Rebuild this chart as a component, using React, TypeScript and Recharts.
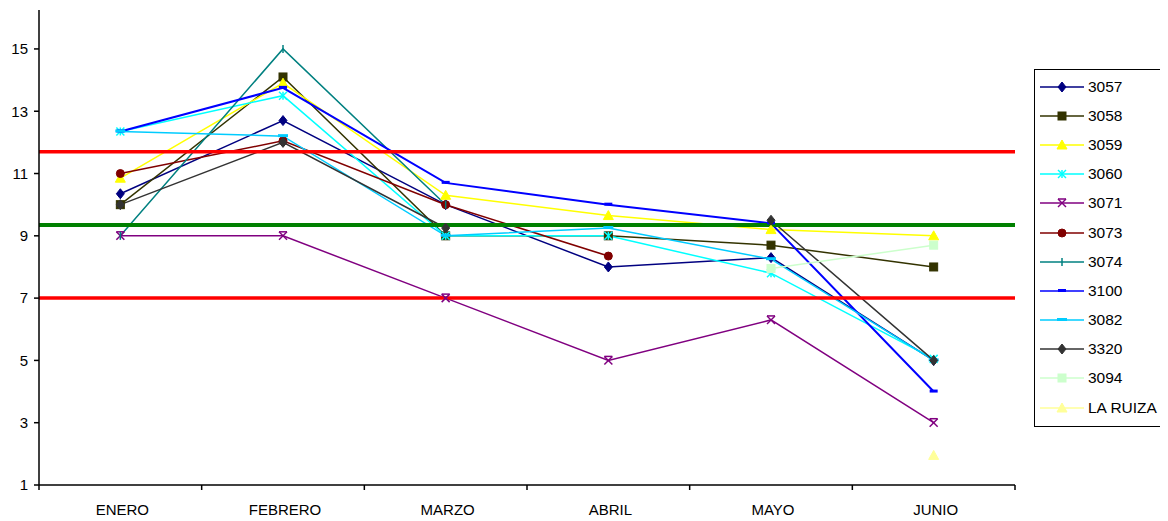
import React from "react";
import { LineChart, Line, XAxis, YAxis, ReferenceLine, Legend } from "recharts";

const months = ["ENERO", "FEBRERO", "MARZO", "ABRIL", "MAYO", "JUNIO"];

const s3057 = [10.35, 12.7, 10.0, 8.0, 8.3, 5.0];
const s3058 = [10.0, 14.1, 9.0, 9.0, 8.7, 8.0];
const s3059 = [10.85, 13.9, 10.3, 9.65, 9.2, 9.0];
const s3060 = [12.35, 13.5, 9.0, 9.0, 7.8, 5.05];
const s3071 = [9.0, 9.0, 7.0, 5.0, 6.3, 3.0];
const s3073 = [11.0, 12.05, 10.0, 8.35, null, null];
const s3074 = [9.0, 15.0, 10.0, null, null, null];
const s3100 = [12.35, 13.75, 10.7, 10.0, 9.4, 4.0];
const s3082 = [12.35, 12.2, 9.0, 9.25, 8.25, 5.0];
const s3320 = [10.0, 12.0, 9.25, null, 9.5, 5.0];
const s3094 = [null, null, null, null, 7.95, 8.7];
const laRuiza = [null, null, null, null, null, 1.95];

const yTicks = [1, 3, 5, 7, 9, 11, 13, 15];
const upperLimit = 11.7;
const target = 9.35;
const lowerLimit = 7.0;

type Shape = "diamond" | "square" | "triangle" | "asterisk" | "star" | "circle" | "plus" | "dash" | "longdash";

const series: { key: string; name: string; values: (number | null)[]; color: string; shape: Shape; width: number }[] = [
  { key: "s3057", name: "3057", values: s3057, color: "#000080", shape: "diamond", width: 1.5 },
  { key: "s3058", name: "3058", values: s3058, color: "#333300", shape: "square", width: 1.5 },
  { key: "s3059", name: "3059", values: s3059, color: "#FFFF00", shape: "triangle", width: 1.5 },
  { key: "s3060", name: "3060", values: s3060, color: "#00FFFF", shape: "asterisk", width: 1.5 },
  { key: "s3071", name: "3071", values: s3071, color: "#800080", shape: "star", width: 1.5 },
  { key: "s3073", name: "3073", values: s3073, color: "#800000", shape: "circle", width: 1.5 },
  { key: "s3074", name: "3074", values: s3074, color: "#008080", shape: "plus", width: 1.5 },
  { key: "s3100", name: "3100", values: s3100, color: "#0000FF", shape: "dash", width: 2 },
  { key: "s3082", name: "3082", values: s3082, color: "#00CCFF", shape: "longdash", width: 1.5 },
  { key: "s3320", name: "3320", values: s3320, color: "#333333", shape: "diamond", width: 1.5 },
  { key: "s3094", name: "3094", values: s3094, color: "#CCFFCC", shape: "square", width: 1.5 },
  { key: "laRuiza", name: "LA RUIZA", values: laRuiza, color: "#FFFF99", shape: "triangle", width: 1.5 },
];

const data = months.map((m, i) => {
  const row: Record<string, string | number | null> = { month: m };
  series.forEach((s) => (row[s.key] = s.values[i]));
  return row;
});

const FONT = "'Liberation Sans', Arial, sans-serif";
const PLOT_LEFT = 31;
const PLOT_RIGHT = 1007;
const BAND = (PLOT_RIGHT - PLOT_LEFT) / months.length;

function marker(shape: Shape, color: string, cx: number, cy: number, key?: string) {
  const sw = 1.5;
  switch (shape) {
    case "diamond":
      return <path key={key} d={`M${cx},${cy - 5} L${cx + 4},${cy} L${cx},${cy + 5} L${cx - 4},${cy} Z`} fill={color} stroke={color} />;
    case "square":
      return <rect key={key} x={cx - 4} y={cy - 4} width={8} height={8} fill={color} stroke={color} />;
    case "triangle":
      return <path key={key} d={`M${cx},${cy - 5} L${cx + 5},${cy + 4} L${cx - 5},${cy + 4} Z`} fill={color} stroke={color} />;
    case "circle":
      return <circle key={key} cx={cx} cy={cy} r={4} fill={color} stroke={color} />;
    case "asterisk":
      return (
        <g key={key} stroke={color} strokeWidth={sw}>
          <line x1={cx - 4} y1={cy - 4} x2={cx + 4} y2={cy + 4} />
          <line x1={cx - 4} y1={cy + 4} x2={cx + 4} y2={cy - 4} />
          <line x1={cx} y1={cy - 4} x2={cx} y2={cy + 4} />
        </g>
      );
    case "star":
      return (
        <g key={key} stroke={color} strokeWidth={sw}>
          <line x1={cx - 4} y1={cy - 4} x2={cx + 4} y2={cy + 4} />
          <line x1={cx - 4} y1={cy + 4} x2={cx + 4} y2={cy - 4} />
          <line x1={cx - 4} y1={cy - 4} x2={cx + 4} y2={cy - 4} />
        </g>
      );
    case "plus":
      return (
        <g key={key} stroke={color} strokeWidth={sw}>
          <line x1={cx} y1={cy - 4} x2={cx} y2={cy + 4} />
        </g>
      );
    case "dash":
      return <rect key={key} x={cx - 4} y={cy - 2} width={8} height={3} fill={color} />;
    case "longdash":
      return <rect key={key} x={cx - 5} y={cy - 2} width={10} height={3} fill={color} />;
  }
}

const makeDot = (shape: Shape, color: string) =>
  // eslint-disable-next-line @typescript-eslint/no-explicit-any
  (p: any) => {
    const k = `${p.dataKey}-${p.index}`;
    if (p.cx == null || p.cy == null || p.value == null || (Array.isArray(p.value) && p.value[1] == null)) {
      return <g key={k} />;
    }
    return marker(shape, color, p.cx, p.cy, k);
  };

// eslint-disable-next-line @typescript-eslint/no-explicit-any
const XTick = (props: any) => {
  const { x, y, payload, index } = props;
  const left = x - BAND / 2;
  return (
    <g>
      <line x1={left} y1={y} x2={left} y2={y + 5} stroke="#000" strokeWidth={1.5} />
      {index === months.length - 1 && (
        <line x1={x + BAND / 2} y1={y} x2={x + BAND / 2} y2={y + 5} stroke="#000" strokeWidth={1.5} />
      )}
      <text x={x + 2} y={y + 30} textAnchor="middle" fontFamily={FONT} fontSize={15} fill="#000">
        {payload.value}
      </text>
    </g>
  );
};

const LegendBox = () => (
  <div
    style={{
      boxSizing: "border-box",
      width: 133,
      height: 358,
      border: "1.5px solid #000",
      background: "#fff",
      paddingTop: 2,
      fontFamily: FONT,
    }}
  >
    {series.map((s) => (
      <div key={s.key} style={{ height: 29.2, display: "flex", alignItems: "center" }}>
        <svg width={50} height={14} style={{ marginLeft: 3, flexShrink: 0 }}>
          <line x1={2} y1={7} x2={46} y2={7} stroke={s.color} strokeWidth={1.5} />
          {marker(s.shape, s.color, 24, 7)}
        </svg>
        <span style={{ fontSize: 15.5, color: "#000", lineHeight: "16px", whiteSpace: "nowrap" }}>{s.name}</span>
      </div>
    ))}
  </div>
);

export default function App() {
  return (
    <LineChart
      width={1160}
      height={513}
      data={data}
      margin={{ top: 2, right: 1160 - PLOT_RIGHT, left: 0, bottom: 0 }}
    >
      <XAxis
        dataKey="month"
        height={36}
        axisLine={{ stroke: "#000", strokeWidth: 1.5 }}
        tickLine={false}
        tickSize={0}
        tickMargin={0}
        padding={{ left: BAND / 2, right: BAND / 2 }}
        tick={<XTick />}
        interval={0}
      />
      <YAxis
        width={PLOT_LEFT}
        type="number"
        domain={[1, 16.25]}
        ticks={yTicks}
        interval={0}
        allowDataOverflow
        axisLine={{ stroke: "#000", strokeWidth: 1.5 }}
        tickLine={{ stroke: "#000", strokeWidth: 1.5 }}
        tickSize={5}
        tickMargin={6}
        tick={{ fontFamily: FONT, fontSize: 15, fill: "#000" }}
      />
      {series.map((s) => (
        <Line
          key={s.key}
          dataKey={s.key}
          name={s.name}
          stroke={s.color}
          strokeWidth={s.width}
          dot={makeDot(s.shape, s.color)}
          activeDot={false}
          isAnimationActive={false}
          connectNulls={false}
        />
      ))}
      <ReferenceLine y={upperLimit} stroke="#FF0000" strokeWidth={3.5} />
      <ReferenceLine y={target} stroke="#008000" strokeWidth={4} />
      <ReferenceLine y={lowerLimit} stroke="#FF0000" strokeWidth={3.5} />
      <Legend
        layout="vertical"
        align="center"
        verticalAlign="middle"
        wrapperStyle={{ left: 1026, top: 61, width: 133, height: 358 }}
        content={() => <LegendBox />}
      />
    </LineChart>
  );
}
